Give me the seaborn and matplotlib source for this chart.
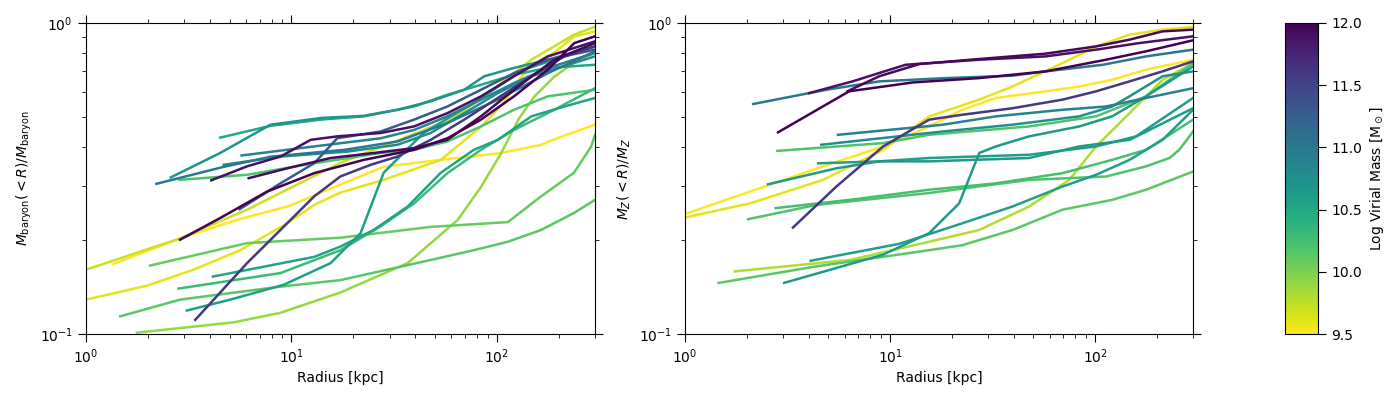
import matplotlib
matplotlib.use("Agg")
import matplotlib.pyplot as plt
import pandas as pd
import seaborn as sns
from matplotlib.ticker import NullFormatter

# log virial mass of each halo, and the cumulative profiles (radius in kpc)
baryon_mass = [9.7, 9.6, 9.5, 10.15, 9.9, 10.1, 11.0, 10.7, 10.5, 10.2,
               12.0, 11.9, 11.95, 11.3, 10.9, 10.8, 11.6, 10.6, 10.55, 10.3]
baryon_radius = [
    [1.0, 2.87, 6.08, 17.3, 59.7, 86.4, 147, 237, 300],
    [1.0, 1.98, 3.34, 5.64, 9.53, 12.9, 17.3, 28.1, 53.3, 83.6, 108, 142, 190, 237, 300],
    [1.36, 3.0, 5.45, 9.56, 18.1, 28.1, 53.3, 105, 164, 198, 300],
    [1.47, 2.87, 8.84, 17.3, 47.6, 77.2, 113, 164, 237, 300],
    [1.77, 5.23, 8.84, 17.3, 36.8, 64.5, 83.6, 105, 127, 152, 190, 237, 300],
    [2.05, 6.08, 17.3, 47.6, 113, 164, 237, 287, 300],
    [2.2, 4.7, 8.0, 18.1, 32.8, 57.4, 101, 177, 300],
    [2.59, 4.5, 7.9, 13.9, 22.5, 32.8, 47.6, 69.3, 86.7, 121, 177, 300],
    [4.5, 7.9, 13.9, 22.5, 39.5, 57.4, 83.6, 121, 177, 300],
    [2.85, 6.08, 12.9, 27.2, 39.5, 57.4, 83.6, 121, 177, 300],
    [2.87, 4.5, 7.61, 12.9, 22.5, 39.5, 57.4, 83.6, 121, 177, 238, 300],
    [4.07, 6.08, 8.84, 12.4, 16.7, 27.2, 39.5, 57.4, 83.6, 121, 177, 300],
    [6.19, 9.53, 15.5, 25.2, 39.5, 57.4, 83.6, 121, 190, 300],
    [5.6, 8.84, 12.9, 16.7, 27.2, 39.5, 57.4, 83.6, 121, 177, 300],
    [5.72, 12.9, 27.2, 39.5, 57.4, 83.6, 121, 177, 300],
    [4.68, 8.84, 18.7, 32.8, 47.6, 69.3, 101, 147, 300],
    [3.4, 6.08, 9.53, 12.9, 17.3, 24.3, 32.8, 47.6, 69.3, 101, 147, 213, 300],
    [3.1, 5.04, 9.18, 15.5, 21.7, 28.1, 44.1, 77.2, 135, 300],
    [4.15, 12.9, 17.3, 25.1, 36.8, 53.3, 77.2, 101, 147, 213, 300],
    [2.82, 8.84, 17.3, 27.2, 39.5, 57.4, 83.6, 121, 190, 300],
]
baryon_frac = [
    [0.161, 0.203, 0.251, 0.355, 0.489, 0.580, 0.762, 0.917, 0.973],
    [0.129, 0.143, 0.161, 0.186, 0.227, 0.260, 0.285, 0.313, 0.363, 0.464, 0.554, 0.723, 0.803, 0.904, 0.940],
    [0.168, 0.205, 0.233, 0.257, 0.306, 0.345, 0.363, 0.382, 0.406, 0.427, 0.471],
    [0.114, 0.129, 0.142, 0.149, 0.173, 0.186, 0.198, 0.216, 0.245, 0.27],
    [0.101, 0.109, 0.117, 0.136, 0.169, 0.233, 0.297, 0.382, 0.489, 0.580, 0.672, 0.745, 0.803],
    [0.166, 0.196, 0.204, 0.221, 0.229, 0.277, 0.330, 0.400, 0.437],
    [0.304, 0.345, 0.372, 0.391, 0.416, 0.477, 0.567, 0.690, 0.811],
    [0.319, 0.382, 0.471, 0.495, 0.503, 0.526, 0.560, 0.610, 0.674, 0.717, 0.762, 0.841],
    [0.428, 0.467, 0.489, 0.501, 0.539, 0.588, 0.633, 0.682, 0.717, 0.734],
    [0.313, 0.325, 0.354, 0.382, 0.391, 0.416, 0.465, 0.526, 0.581, 0.610],
    [0.201, 0.236, 0.287, 0.329, 0.363, 0.391, 0.426, 0.489, 0.581, 0.708, 0.862, 0.906],
    [0.312, 0.346, 0.372, 0.421, 0.432, 0.443, 0.465, 0.513, 0.581, 0.674, 0.781, 0.873],
    [0.317, 0.341, 0.368, 0.382, 0.396, 0.421, 0.501, 0.610, 0.762, 0.862],
    [0.252, 0.305, 0.354, 0.426, 0.448, 0.489, 0.539, 0.610, 0.690, 0.762, 0.821],
    [0.375, 0.401, 0.426, 0.453, 0.501, 0.567, 0.641, 0.717, 0.801],
    [0.350, 0.372, 0.386, 0.406, 0.443, 0.513, 0.595, 0.674, 0.781],
    [0.111, 0.169, 0.227, 0.277, 0.321, 0.350, 0.372, 0.421, 0.489, 0.574, 0.674, 0.781, 0.841],
    [0.119, 0.129, 0.144, 0.169, 0.211, 0.330, 0.444, 0.554, 0.708, 0.841],
    [0.153, 0.177, 0.191, 0.216, 0.257, 0.330, 0.391, 0.421, 0.501, 0.539, 0.574],
    [0.140, 0.157, 0.186, 0.222, 0.263, 0.329, 0.391, 0.453, 0.526, 0.617],
]

metal_mass = [9.5, 9.6, 9.8, 12.0, 11.9, 11.95, 11.0, 11.6, 10.9, 10.75,
              10.6, 10.65, 10.65, 10.6, 10.2, 10.25, 10.2, 10.15]
metal_radius = [
    [1.0, 2.07, 4.71, 9.25, 15.5, 22.5, 32.8, 57.4, 83.6, 121, 177, 300],
    [1.0, 2.07, 4.71, 9.25, 15.5, 27.2, 39.5, 69.3, 101, 147, 213, 300],
    [1.75, 6.36, 15.5, 27.2, 47.6, 74.7, 101, 147, 213, 300],
    [2.84, 6.31, 12.9, 27.2, 57.4, 113, 177, 300],
    [4.03, 6.55, 11.9, 27.2, 57.4, 101, 164, 300],
    [6.19, 8.84, 13.9, 27.2, 57.4, 101, 147, 213, 300],
    [2.15, 4.89, 8.84, 18.7, 39.5, 57.4, 109, 177, 300],
    [3.36, 5.47, 9.25, 15.5, 22.5, 39.5, 69.3, 101, 147, 213, 300],
    [5.57, 18.1, 32.8, 69.3, 113, 177, 300],
    [4.62, 18.1, 39.5, 83.6, 121, 147, 213, 300],
    [4.46, 8.84, 15.5, 47.6, 101, 158, 300],
    [2.54, 5.47, 8.84, 15.5, 47.6, 83.6, 147, 300],
    [3.04, 9.25, 15.5, 21.7, 27.2, 32.8, 47.6, 83.6, 121, 177, 300],
    [4.10, 11.1, 22.5, 39.5, 69.3, 101, 147, 213, 300],
    [2.82, 9.25, 15.5, 47.6, 101, 177, 300],
    [2.77, 6.36, 15.5, 32.8, 69.3, 121, 177, 300],
    [2.03, 4.37, 15.5, 47.6, 113, 177, 230, 257, 300],
    [1.46, 4.37, 15.5, 22.5, 39.5, 69.3, 121, 177, 300],
]
metal_frac = [
    [0.243, 0.287, 0.346, 0.401, 0.465, 0.526, 0.574, 0.603, 0.625, 0.657, 0.708, 0.762],
    [0.237, 0.263, 0.313, 0.391, 0.501, 0.567, 0.625, 0.743, 0.841, 0.917, 0.952, 0.971],
    [0.159, 0.173, 0.198, 0.216, 0.257, 0.313, 0.401, 0.513, 0.657, 0.743],
    [0.445, 0.603, 0.644, 0.665, 0.699, 0.762, 0.811, 0.880],
    [0.595, 0.649, 0.734, 0.762, 0.781, 0.821, 0.862, 0.906],
    [0.603, 0.674, 0.738, 0.766, 0.797, 0.841, 0.884, 0.940, 0.952],
    [0.549, 0.610, 0.649, 0.665, 0.677, 0.699, 0.734, 0.781, 0.821],
    [0.220, 0.298, 0.401, 0.489, 0.507, 0.532, 0.567, 0.603, 0.649, 0.699, 0.753],
    [0.437, 0.471, 0.501, 0.526, 0.539, 0.574, 0.617],
    [0.406, 0.448, 0.471, 0.501, 0.539, 0.581, 0.674, 0.699],
    [0.354, 0.359, 0.368, 0.377, 0.401, 0.432, 0.574],
    [0.303, 0.341, 0.359, 0.359, 0.368, 0.401, 0.421, 0.532],
    [0.146, 0.180, 0.211, 0.263, 0.382, 0.401, 0.432, 0.465, 0.501, 0.581, 0.725],
    [0.172, 0.195, 0.227, 0.257, 0.298, 0.325, 0.363, 0.421, 0.526],
    [0.388, 0.411, 0.437, 0.465, 0.501, 0.581, 0.743],
    [0.254, 0.270, 0.291, 0.305, 0.329, 0.363, 0.391, 0.489],
    [0.234, 0.260, 0.284, 0.313, 0.321, 0.346, 0.368, 0.391, 0.448],
    [0.146, 0.165, 0.186, 0.193, 0.216, 0.251, 0.270, 0.291, 0.333],
]


def long_table(masses, radii, fracs):
    rows = []
    for i, (m, rr, ff) in enumerate(zip(masses, radii, fracs)):
        for r, f in zip(rr, ff):
            rows.append((i, m, r, f))
    return pd.DataFrame(rows, columns=["halo", "logmvir", "radius", "frac"])


plt.rcParams["xtick.major.size"] = 6
plt.rcParams["ytick.major.size"] = 6
plt.rcParams["xtick.minor.size"] = 3
plt.rcParams["ytick.minor.size"] = 3

norm = plt.Normalize(9.5, 12.0)
cmap = plt.get_cmap("viridis_r")

fig = plt.figure(figsize=(14, 4), dpi=100)
ax1 = fig.add_axes([0.0614, 0.165, 0.3636, 0.7775])
ax2 = fig.add_axes([0.4893, 0.165, 0.3629, 0.7775])
cax = fig.add_axes([0.918, 0.165, 0.0236, 0.7775])

panels = [
    (ax1, long_table(baryon_mass, baryon_radius, baryon_frac), r"$M_{\rm baryon}(<R)/M_{\rm baryon}$"),
    (ax2, long_table(metal_mass, metal_radius, metal_frac), r"$M_Z(<R)/M_Z$"),
]
for ax, df, ylab in panels:
    sns.lineplot(data=df, x="radius", y="frac", hue="logmvir", units="halo",
                 estimator=None, sort=False, palette=cmap, hue_norm=norm,
                 lw=1.8, legend=False, ax=ax)
    ax.set_xscale("log")
    ax.set_yscale("log")
    ax.set_xlim(1, 300)
    ax.set_ylim(0.1, 1)
    ax.set_xlabel("Radius [kpc]")
    ax.set_ylabel(ylab)
    ax.tick_params(which="both", top=True, right=True)
    ax.xaxis.set_minor_formatter(NullFormatter())
    ax.yaxis.set_minor_formatter(NullFormatter())

sm = matplotlib.cm.ScalarMappable(norm=norm, cmap=cmap)
cb = fig.colorbar(sm, cax=cax)
cb.set_ticks([9.5, 10.0, 10.5, 11.0, 11.5, 12.0])
cb.set_label(r"Log Virial Mass [M$_\odot$]")

fig.savefig("out.png", dpi=100)
